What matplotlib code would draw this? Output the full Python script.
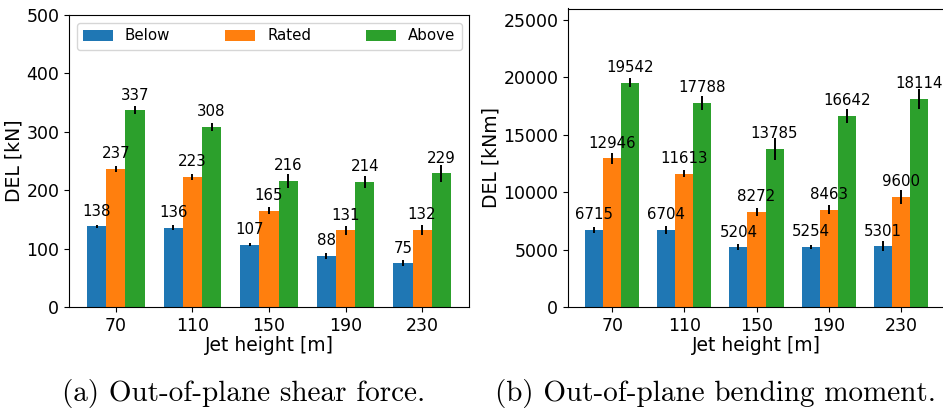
import matplotlib
matplotlib.use("Agg")
import matplotlib.pyplot as plt
import numpy as np

# Jet heights [m] and operating regions
heights = ["70", "110", "150", "190", "230"]
regions = ["Below", "Rated", "Above"]
colors = ["#1f77b4", "#ff7f0e", "#2ca02c"]

# Out-of-plane shear force DEL [kN]
shear_below = [138, 136, 107, 88, 75]
shear_rated = [237, 223, 165, 131, 132]
shear_above = [337, 308, 216, 214, 229]
shear_below_err = [3, 4, 3, 5, 5]
shear_rated_err = [5, 5, 6, 8, 9]
shear_above_err = [7, 7, 12, 10, 15]

# Out-of-plane bending moment DEL [kNm]
moment_below = [6715, 6704, 5204, 5254, 5301]
moment_rated = [12946, 11613, 8272, 8463, 9600]
moment_above = [19542, 17788, 13785, 16642, 18114]
moment_below_err = [290, 350, 260, 175, 405]
moment_rated_err = [465, 290, 360, 405, 610]
moment_above_err = [405, 610, 940, 625, 855]

W, H = 943, 409
fig = plt.figure(figsize=(W / 100, H / 100), dpi=100)

ax_a = fig.add_axes([69 / W, 1 - 307 / H, 400 / W, 292 / H])
ax_b = fig.add_axes([568 / W, 1 - 307 / H, 377 / W, 298.5 / H])

width = 0.25
x = np.arange(len(heights))


def grouped_bars(ax, series, errors, ylabel, ylim, legend):
    for i, (vals, errs) in enumerate(zip(series, errors)):
        pos = x + (i - 1) * width
        ax.bar(pos, vals, width, yerr=errs, color=colors[i], label=regions[i],
               error_kw=dict(ecolor="black", elinewidth=1.4, capsize=0))
        for xp, v in zip(pos, vals):
            ax.annotate(f"{v}", (xp, v), xytext=(0, 5.5), textcoords="offset points",
                        ha="center", va="bottom", fontsize=10.8)
    ax.set_xticks(x)
    ax.set_xticklabels(heights)
    ax.set_ylim(*ylim)
    ax.tick_params(labelsize=12.5)
    ax.set_xlabel("Jet height [m]", fontsize=13.5, labelpad=1)
    ax.set_ylabel(ylabel, fontsize=13.5, labelpad=2)
    if legend:
        ax.legend(loc="upper left", ncol=3, mode="expand", fontsize=10.8,
                  bbox_to_anchor=(0, 0, 1, 1))


grouped_bars(ax_a, [shear_below, shear_rated, shear_above],
             [shear_below_err, shear_rated_err, shear_above_err],
             "DEL [kN]", (0, 500), True)
grouped_bars(ax_b, [moment_below, moment_rated, moment_above],
             [moment_below_err, moment_rated_err, moment_above_err],
             "DEL [kNm]", (0, 26000), False)

fig.text(244 / W, 1 - 393 / H, "(a) Out-of-plane shear force.",
         family="cmr10", fontsize=21, ha="center", va="center")
fig.text(715 / W, 1 - 393 / H, "(b) Out-of-plane bending moment.",
         family="cmr10", fontsize=21, ha="center", va="center")

fig.savefig("out.png", dpi=100)
